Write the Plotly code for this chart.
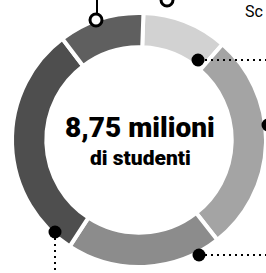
import plotly.graph_objects as go

W, H = 266, 273

# Data (millions of students per segment)
segments = ["Segmento 1", "Segmento 2", "Segmento 3", "Segmento 4", "Segmento 5"]
students_mln = [0.95, 2.45, 1.73, 2.67, 0.95]
colors = ["#d2d2d2", "#a4a4a4", "#8c8c8c", "#4e4e4e", "#5f5f5f"]
total_label = "8,75 milioni"
sub_label = "di studenti"
corner_label = "Sc"


def px(x):
    return x / W


def py(y):
    return 1 - y / H


cx, cy, r = 139, 140, 127

fig = go.Figure()
fig.add_trace(go.Pie(
    labels=segments,
    values=students_mln,
    sort=False,
    direction="clockwise",
    rotation=2,
    hole=0.73,
    textinfo="none",
    hoverinfo="label+value",
    marker=dict(colors=colors, line=dict(color="white", width=4)),
    domain=dict(x=[px(cx - r), px(cx + r)], y=[py(cy + r), py(cy - r)]),
    showlegend=False,
))

shapes = []
# leader line + open circle (top left)
shapes.append(dict(type="line", xref="paper", yref="paper",
                   x0=px(97), x1=px(97), y0=py(0), y1=py(13),
                   line=dict(color="black", width=2)))
for (x, y) in [(96, 20), (167, 0)]:
    shapes.append(dict(type="circle", xref="paper", yref="paper",
                       x0=px(x - 6), x1=px(x + 6), y0=py(y + 6), y1=py(y - 6),
                       fillcolor="white", line=dict(color="black", width=3)))
# dotted leader lines
dotted = dict(color="black", width=2, dash="2px,4px")
shapes.append(dict(type="line", xref="paper", yref="paper",
                   x0=px(205), x1=px(266), y0=py(60), y1=py(60), line=dotted))
shapes.append(dict(type="line", xref="paper", yref="paper",
                   x0=px(205), x1=px(266), y0=py(255), y1=py(255), line=dotted))
shapes.append(dict(type="line", xref="paper", yref="paper",
                   x0=px(55), x1=px(55), y0=py(238), y1=py(273), line=dotted))
# filled dots
for (x, y) in [(198, 60), (268, 125), (55, 232), (199, 255)]:
    shapes.append(dict(type="circle", xref="paper", yref="paper",
                       x0=px(x - 6.5), x1=px(x + 6.5), y0=py(y + 6.5), y1=py(y - 6.5),
                       fillcolor="black", line=dict(color="black", width=0)))

fam = "Roboto, Liberation Sans, sans-serif"
annotations = [
    dict(text=total_label, x=px(140), y=py(127), xref="paper", yref="paper",
         showarrow=False, xanchor="center", yanchor="middle",
         font=dict(family=fam, size=28, color="black", weight=900)),
    dict(text=sub_label, x=px(140), y=py(158), xref="paper", yref="paper",
         showarrow=False, xanchor="center", yanchor="middle",
         font=dict(family=fam, size=21, color="black", weight=900)),
    dict(text=corner_label, x=px(265), y=py(0), xref="paper", yref="paper",
         showarrow=False, xanchor="right", yanchor="top",
         font=dict(family=fam, size=16, color="black")),
]

fig.update_layout(
    width=W, height=H,
    margin=dict(l=0, r=0, t=0, b=0),
    paper_bgcolor="white", plot_bgcolor="white",
    shapes=shapes, annotations=annotations,
)

fig.write_html("out.html", include_plotlyjs=True, config={"displayModeBar": False},
               post_script="document.body.style.margin='0';")
